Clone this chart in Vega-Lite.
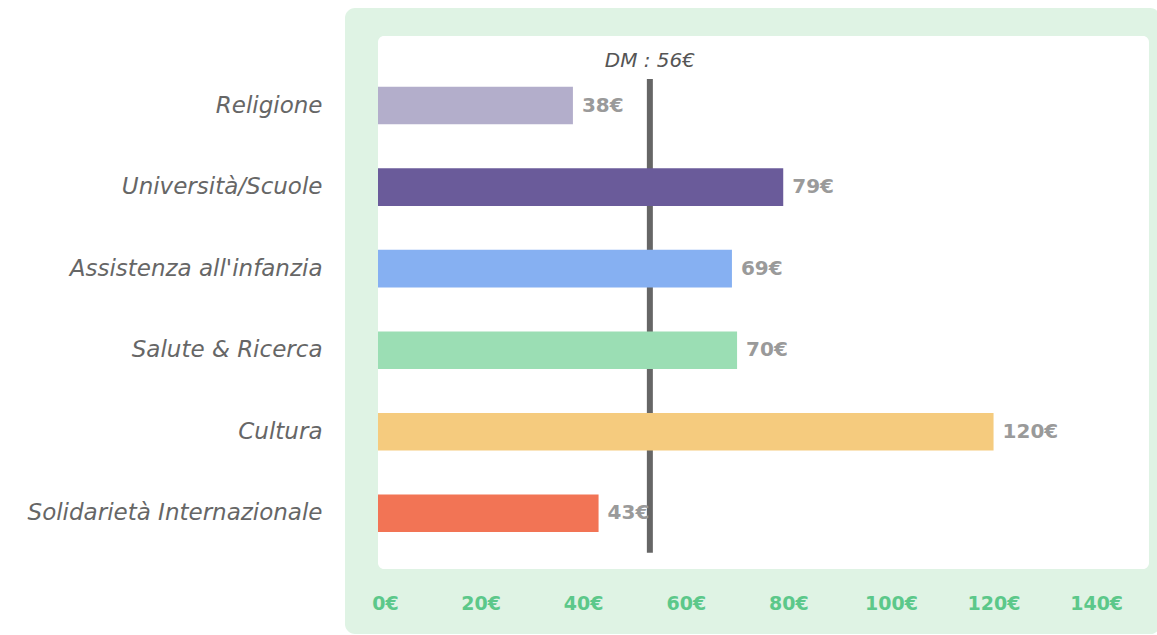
{
  "$schema": "https://vega.github.io/schema/vega-lite/v6.json",
  "width": 772,
  "height": 533,
  "autosize": {"type": "none"},
  "padding": {"left": 378, "top": 36, "right": 7, "bottom": 66},
  "background": "white",
  "config": {"view": {"stroke": null}, "font": "DejaVu Sans"},
  "datasets": {
    "spese": [
      {"categoria": "Religione", "valore": 38, "etichetta": "38€"},
      {"categoria": "Università/Scuole", "valore": 79, "etichetta": "79€"},
      {"categoria": "Assistenza all'infanzia", "valore": 69, "etichetta": "69€"},
      {"categoria": "Salute & Ricerca", "valore": 70, "etichetta": "70€"},
      {"categoria": "Cultura", "valore": 120, "etichetta": "120€"},
      {"categoria": "Solidarietà Internazionale", "valore": 43, "etichetta": "43€"}
    ],
    "media": [{"valore": 53, "etichetta": "DM : 56€"}]
  },
  "resolve": {"scale": {"y": "independent"}},
  "layer": [
    {
      "data": {"name": "media"},
      "layer": [
        {
          "mark": {"type": "rect", "color": "#dff3e4", "cornerRadius": 10},
          "encoding": {
            "x": {"datum": -6.435, "type": "quantitative", "scale": {"domain": [0, 150.5], "nice": false, "zero": false},
              "axis": {"zindex": 2, "values": [0, 20, 40, 60, 80, 100, 120, 140], "labelExpr": "datum.value + '€'", "title": null, "grid": false, "domain": false, "ticks": false, "labelFlush": false, "labelFontSize": 19, "labelFontWeight": "bold", "labelColor": "#5cc88a", "labelPadding": 25, "labelOffset": {"condition": {"test": "datum.value === 0", "value": 7}, "value": 0}}},
            "x2": {"datum": 152.5},
            "y": {"datum": -0.122, "type": "quantitative", "scale": {"domain": [0, 1], "nice": false, "zero": false}, "axis": null},
            "y2": {"datum": 1.0525}
          }
        },
        {
          "mark": {"type": "rect", "color": "#ffffff", "cornerRadius": 6},
          "encoding": {
            "x": {"datum": 0, "type": "quantitative", "scale": {"domain": [0, 150.5], "nice": false, "zero": false},
              "axis": {"zindex": 2, "values": [0, 20, 40, 60, 80, 100, 120, 140], "labelExpr": "datum.value + '€'", "title": null, "grid": false, "domain": false, "ticks": false, "labelFlush": false, "labelFontSize": 19, "labelFontWeight": "bold", "labelColor": "#5cc88a", "labelPadding": 25, "labelOffset": {"condition": {"test": "datum.value === 0", "value": 7}, "value": 0}}},
            "x2": {"datum": 150.3},
            "y": {"datum": 0, "type": "quantitative", "scale": {"domain": [0, 1], "nice": false, "zero": false}, "axis": null},
            "y2": {"datum": 1}
          }
        },
        {
          "mark": {"type": "rule", "color": "#666666", "strokeWidth": 6},
          "encoding": {
            "x": {"field": "valore", "type": "quantitative", "scale": {"domain": [0, 150.5], "nice": false, "zero": false},
              "axis": {"zindex": 2, "values": [0, 20, 40, 60, 80, 100, 120, 140], "labelExpr": "datum.value + '€'", "title": null, "grid": false, "domain": false, "ticks": false, "labelFlush": false, "labelFontSize": 19, "labelFontWeight": "bold", "labelColor": "#5cc88a", "labelPadding": 25, "labelOffset": {"condition": {"test": "datum.value === 0", "value": 7}, "value": 0}}},
            "y": {"datum": 0.0306, "type": "quantitative", "scale": {"domain": [0, 1], "nice": false, "zero": false}, "axis": null},
            "y2": {"datum": 0.9193}
          }
        },
        {
          "mark": {"type": "text", "color": "#555555", "fontSize": 20, "fontStyle": "italic", "align": "center", "baseline": "middle"},
          "encoding": {
            "x": {"field": "valore", "type": "quantitative", "scale": {"domain": [0, 150.5], "nice": false, "zero": false},
              "axis": {"zindex": 2, "values": [0, 20, 40, 60, 80, 100, 120, 140], "labelExpr": "datum.value + '€'", "title": null, "grid": false, "domain": false, "ticks": false, "labelFlush": false, "labelFontSize": 19, "labelFontWeight": "bold", "labelColor": "#5cc88a", "labelPadding": 25, "labelOffset": {"condition": {"test": "datum.value === 0", "value": 7}, "value": 0}}},
            "y": {"datum": 0.953, "type": "quantitative", "scale": {"domain": [0, 1], "nice": false, "zero": false}, "axis": null},
            "text": {"field": "etichetta", "type": "nominal"}
          }
        }
      ]
    },
    {
      "data": {"name": "spese"},
      "encoding": {
        "y": {"field": "categoria", "type": "nominal", "sort": null,
          "scale": {"paddingInner": 0.539, "paddingOuter": 0.537, "align": 0.579},
          "axis": {"title": null, "domain": false, "ticks": false, "labelFontSize": 23, "labelFontStyle": "italic", "labelColor": "#666666", "labelPadding": 56, "labelLimit": 400}},
        "x": {"field": "valore", "type": "quantitative", "scale": {"domain": [0, 150.5], "nice": false, "zero": false},
          "axis": {"zindex": 2, "values": [0, 20, 40, 60, 80, 100, 120, 140], "labelExpr": "datum.value + '€'", "title": null, "grid": false, "domain": false, "ticks": false, "labelFlush": false, "labelFontSize": 19, "labelFontWeight": "bold", "labelColor": "#5cc88a", "labelPadding": 25, "labelOffset": {"condition": {"test": "datum.value === 0", "value": 7}, "value": 0}}}
      },
      "layer": [
        {
          "mark": {"type": "bar"},
          "encoding": {
            "color": {"field": "categoria", "type": "nominal", "legend": null,
              "scale": {"domain": ["Religione", "Università/Scuole", "Assistenza all'infanzia", "Salute & Ricerca", "Cultura", "Solidarietà Internazionale"],
                "range": ["#b3aecb", "#6a5b9a", "#86b0f2", "#9bdeb4", "#f5cb7e", "#f27455"]}}
          }
        },
        {
          "mark": {"type": "text", "align": "left", "baseline": "middle", "dx": 9, "fontSize": 20, "fontWeight": "bold", "color": "#9a9a9a"},
          "encoding": {"text": {"field": "etichetta", "type": "nominal"}}
        }
      ]
    }
  ]
}
